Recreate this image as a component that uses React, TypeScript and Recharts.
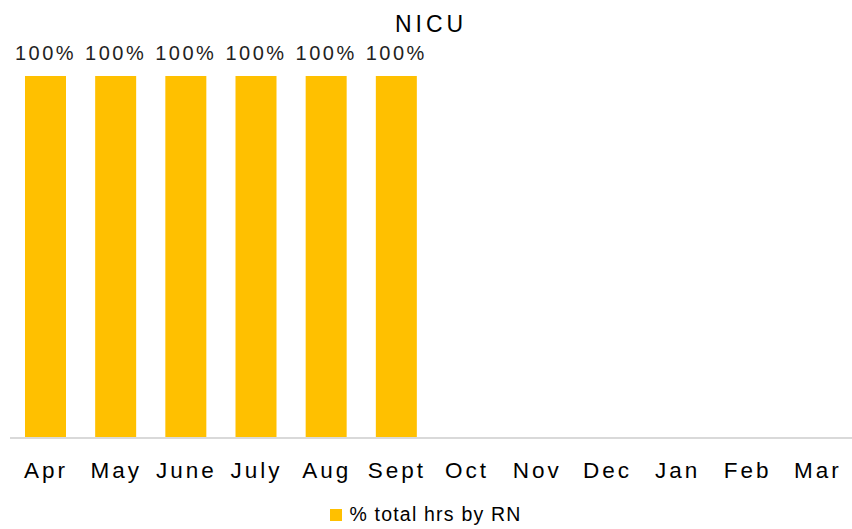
import React from 'react';
import { BarChart, Bar, XAxis, YAxis, LabelList, Legend } from 'recharts';

const months = ['Apr', 'May', 'June', 'July', 'Aug', 'Sept', 'Oct', 'Nov', 'Dec', 'Jan', 'Feb', 'Mar'];
const rnShare: Array<number | null> = [100, 100, 100, 100, 100, 100, null, null, null, null, null, null];

const SERIES_NAME = '% total hrs by RN';
const GOLD = '#FFC000';
const FONT = '"Liberation Sans", Arial, sans-serif';

const data = months.map((month, i) => ({ month, value: rnShare[i] }));

function MonthTick({ x, y, payload }: any) {
  return (
    <text
      x={x + 1}
      y={y + 40}
      textAnchor="middle"
      fontFamily={FONT}
      fontSize={22.5}
      letterSpacing={3}
      fill="#000"
    >
      {payload.value}
    </text>
  );
}

function LegendContent() {
  return (
    <div style={{ display: 'flex', justifyContent: 'center', alignItems: 'center', fontFamily: FONT }}>
      <span style={{ display: 'inline-block', width: 12, height: 12, background: GOLD, marginRight: 7 }} />
      <span style={{ fontSize: 19.5, color: '#000', letterSpacing: 1.2 }}>{SERIES_NAME}</span>
    </div>
  );
}

export default function App() {
  return (
    <div style={{ position: 'absolute', left: 0, top: 0, width: 852, height: 529, background: '#fff' }}>
      <div
        style={{
          position: 'absolute',
          top: 11,
          left: 0,
          width: 862,
          textAlign: 'center',
          fontFamily: FONT,
          fontSize: 23,
          letterSpacing: 4,
          color: '#000',
        }}
      >
        NICU
      </div>
      <BarChart width={852} height={529} data={data} margin={{ top: 76, right: 0, left: 10, bottom: 0 }}>
        <XAxis
          dataKey="month"
          height={91}
          interval={0}
          tickLine={false}
          tickSize={0}
          tickMargin={0}
          axisLine={{ stroke: '#d9d9d9', strokeWidth: 2 }}
          tick={<MonthTick />}
        />
        <YAxis hide domain={[0, 100]} />
        <Legend
          layout="vertical"
          align="center"
          verticalAlign="middle"
          content={<LegendContent />}
          wrapperStyle={{ position: 'absolute', top: 503, left: 0, width: 852 }}
        />
        <Bar dataKey="value" name={SERIES_NAME} fill={GOLD} barSize={41} isAnimationActive={false}>
          <LabelList
            dataKey="value"
            position="top"
            offset={16}
            formatter={(v: any) => (v == null ? '' : `${v}%`)}
            style={{ fontFamily: FONT, fontSize: 20, letterSpacing: 2.5, fill: '#222' }}
          />
        </Bar>
      </BarChart>
    </div>
  );
}
